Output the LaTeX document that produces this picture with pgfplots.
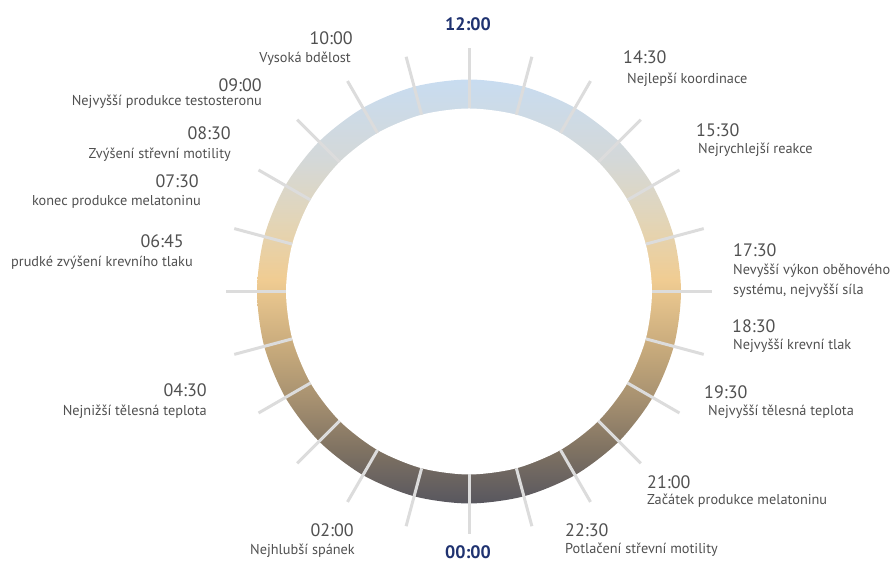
\documentclass[border=0pt]{standalone}
\usepackage{pgfplots}
\pgfplotsset{compat=1.18}
\usepackage{fontspec}
\setmainfont{PT Sans}

\definecolor{tickgray}{HTML}{DCDCDC}
\definecolor{labgray}{HTML}{505050}
\definecolor{navy}{HTML}{1F3270}

% vertical ring gradient: 25bp = bottom of ring, 75bp = top of ring
\pgfdeclareverticalshading{clockring}{100bp}{
  color(0bp)=(rgb,255:red,88;green,87;blue,95);
  color(25bp)=(rgb,255:red,88;green,87;blue,95);
  color(31.3bp)=(rgb,255:red,127;green,114;blue,98);
  color(37.2bp)=(rgb,255:red,166;green,144;blue,112);
  color(43.1bp)=(rgb,255:red,198;green,169;blue,123);
  color(51.4bp)=(rgb,255:red,240;green,204;blue,146);
  color(58.5bp)=(rgb,255:red,226;green,213;blue,184);
  color(65.5bp)=(rgb,255:red,212;green,216;blue,216);
  color(75bp)=(rgb,255:red,200;green,220;blue,240);
  color(100bp)=(rgb,255:red,200;green,220;blue,240)}

\newcommand{\tm}[1]{{\fontsize{18}{20}\selectfont #1}}
\newcommand{\ds}[1]{{\fontsize{14.3}{17}\selectfont #1}}

\begin{document}
\begin{tikzpicture}
\begin{axis}[
    x=1pt, y=1pt,
    xmin=-469, xmax=426,
    ymin=-269.5, ymax=291.5,
    hide axis, clip=false,
    no markers,
]
% ring (outer disk shaded, inner disk white)
\addplot[draw=none, shade, shading=clockring, data cs=polar, smooth cycle] coordinates {
    (0,212) (15,212) (30,212) (45,212) (60,212) (75,212) (90,212) (105,212)
    (120,212) (135,212) (150,212) (165,212) (180,212) (195,212) (210,212) (225,212)
    (240,212) (255,212) (270,212) (285,212) (300,212) (315,212) (330,212) (345,212)
};
\addplot[draw=none, fill=white, data cs=polar, smooth cycle] coordinates {
    (0,183) (15,183) (30,183) (45,183) (60,183) (75,183) (90,183) (105,183)
    (120,183) (135,183) (150,183) (165,183) (180,183) (195,183) (210,183) (225,183)
    (240,183) (255,183) (270,183) (285,183) (300,183) (315,183) (330,183) (345,183)
};
% hour ticks, one every 15 degrees
\pgfplotsinvokeforeach{0,15,...,345}{
  \addplot[tickgray, line width=3pt, data cs=polar] coordinates {(#1,183) (#1,243)};
}

\begin{scope}[every node/.style={inner sep=0pt, text=labgray}]
% top and bottom
\node[anchor=base, text=navy, font=\fontsize{18}{20}\selectfont\bfseries] at (axis cs:-1,260.5) {12:00};
\node[anchor=base, text=navy, font=\fontsize{18}{20}\selectfont\bfseries] at (axis cs:-1,-267) {00:00};
% left side
\node[anchor=base east] at (axis cs:-116,246.5) {\tm{10:00}};
\node[anchor=base east] at (axis cs:-118,229) {\ds{Vysoká bdělost}};
\node[anchor=base east] at (axis cs:-207,199.5) {\tm{09:00}};
\node[anchor=base east] at (axis cs:-207,185.5) {\ds{Nejvyšší produkce testosteronu}};
\node[anchor=base east] at (axis cs:-238,151.5) {\tm{08:30}};
\node[anchor=base east] at (axis cs:-238,132.5) {\ds{Zvýšení střevní motility}};
\node[anchor=base east] at (axis cs:-270,103.5) {\tm{07:30}};
\node[anchor=base east] at (axis cs:-268,85.5) {\ds{konec produkce melatoninu}};
\node[anchor=base east] at (axis cs:-285,43.5) {\tm{06:45}};
\node[anchor=base east] at (axis cs:-276,24.5) {\ds{prudké zvýšení krevního tlaku}};
\node[anchor=base east] at (axis cs:-262,-105.5) {\tm{04:30}};
\node[anchor=base east] at (axis cs:-262,-124.5) {\ds{Nejnižší tělesná teplota}};
\node[anchor=base east] at (axis cs:-115,-245.5) {\tm{02:00}};
\node[anchor=base east] at (axis cs:-114,-263.5) {\ds{Nejhlubší spánek}};
% right side
\node[anchor=base west] at (axis cs:154,227.5) {\tm{14:30}};
\node[anchor=base west] at (axis cs:158,208) {\ds{Nejlepší koordinace}};
\node[anchor=base west] at (axis cs:227,154.5) {\tm{15:30}};
\node[anchor=base west] at (axis cs:229,137.5) {\ds{Nejrychlejší reakce}};
\node[anchor=base west] at (axis cs:264,34.5) {\tm{17:30}};
\node[anchor=base west] at (axis cs:264,16.5) {\ds{Nevyšší výkon oběhového}};
\node[anchor=base west] at (axis cs:264,-3.5) {\ds{systému, nejvyšší síla}};
\node[anchor=base west] at (axis cs:263,-41.5) {\tm{18:30}};
\node[anchor=base west] at (axis cs:264,-58.5) {\ds{Nejvyšší krevní tlak}};
\node[anchor=base west] at (axis cs:235,-107.5) {\tm{19:30}};
\node[anchor=base west] at (axis cs:239,-124.5) {\ds{Nejvyšší tělesná teplota}};
\node[anchor=base west] at (axis cs:178,-197.5) {\tm{21:00}};
\node[anchor=base west] at (axis cs:178,-213.5) {\ds{Začátek produkce melatoninu}};
\node[anchor=base west] at (axis cs:96,-245.5) {\tm{22:30}};
\node[anchor=base west] at (axis cs:96,-262) {\ds{Potlačení střevní motility}};
\end{scope}
\end{axis}
\pgfresetboundingbox
\path (current axis.south west) rectangle (current axis.north east);
\end{tikzpicture}
\end{document}
